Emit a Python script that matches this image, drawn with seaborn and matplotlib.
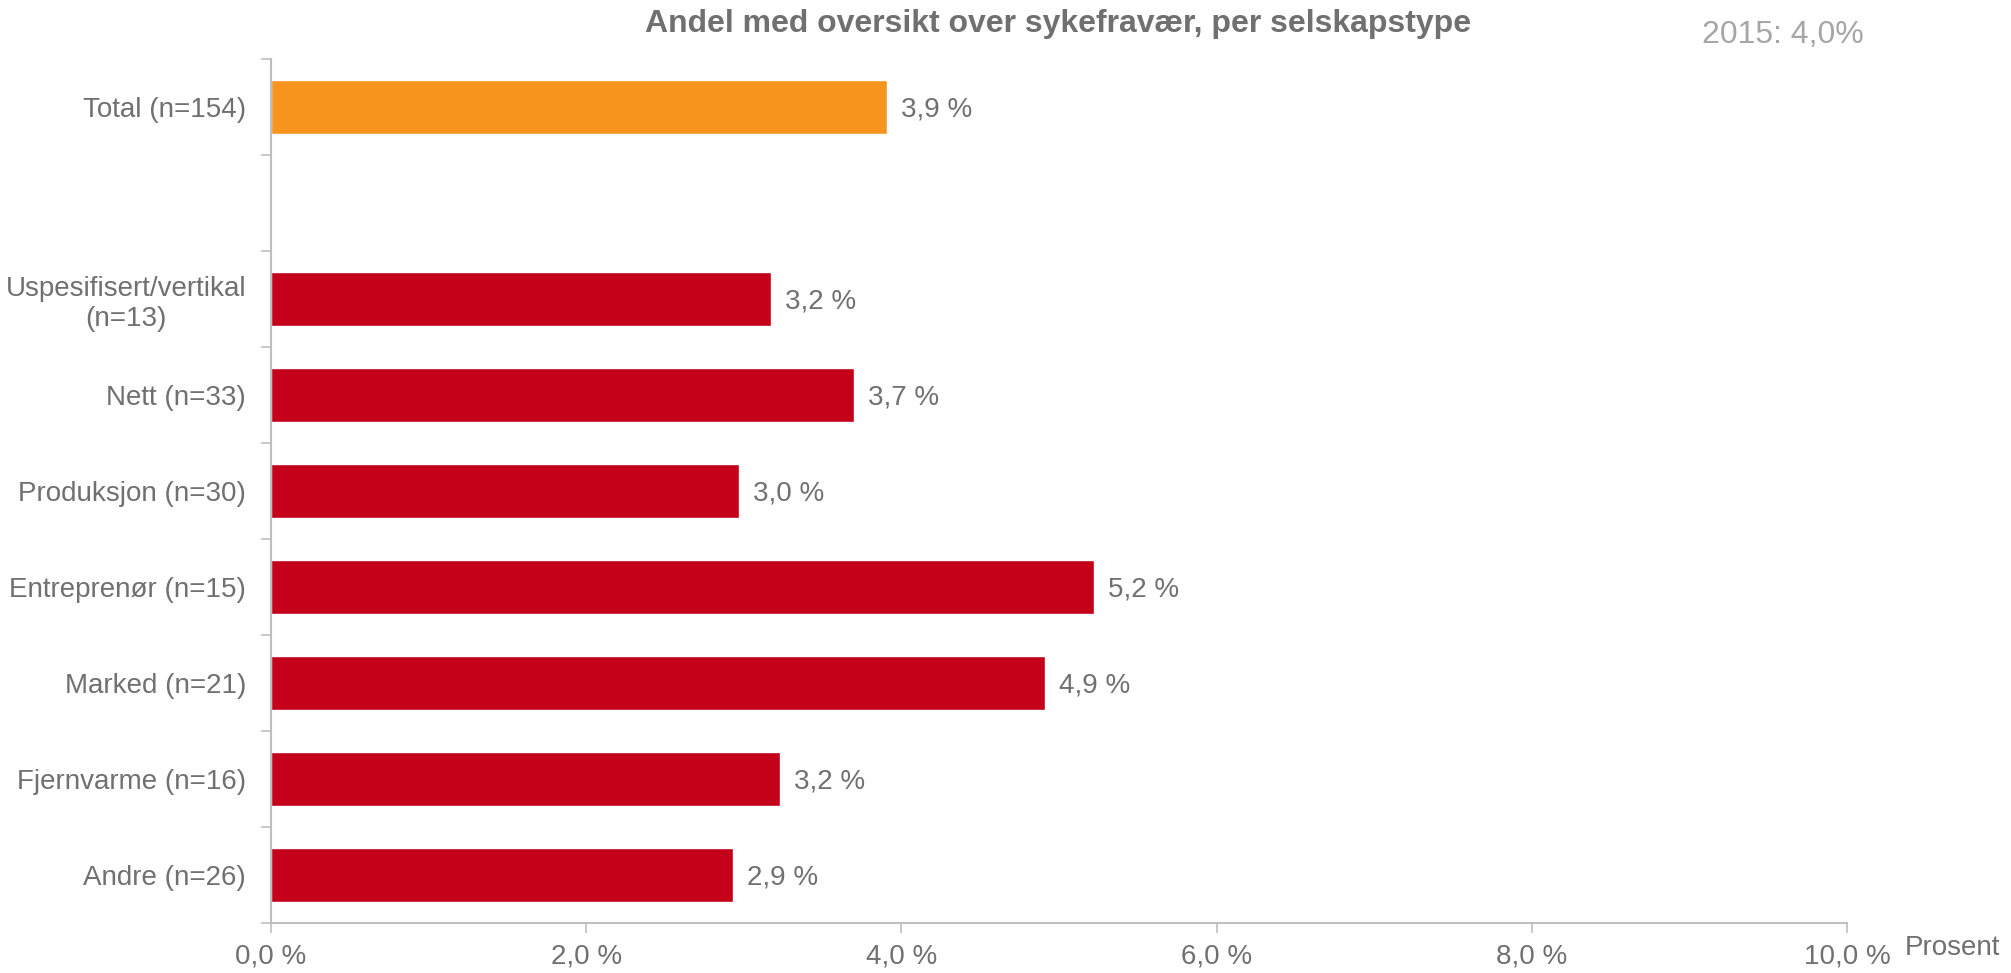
import numpy as np
import pandas as pd
import matplotlib
matplotlib.use("Agg")
import matplotlib.pyplot as plt
from matplotlib.ticker import FuncFormatter, FixedLocator
import seaborn as sns

# data
categories = ["Total (n=154)", " ", "Uspesifisert/vertikal\n(n=13)", "Nett (n=33)",
              "Produksjon (n=30)", "Entreprenør (n=15)", "Marked (n=21)",
              "Fjernvarme (n=16)", "Andre (n=26)"]
values = [3.91, np.nan, 3.17, 3.70, 2.97, 5.22, 4.91, 3.23, 2.93]
value_labels = ["3,9 %", "", "3,2 %", "3,7 %", "3,0 %", "5,2 %", "4,9 %", "3,2 %", "2,9 %"]

ORANGE = "#F7941D"
RED = "#C4001A"
GREY = "#707070"
AXCOL = "#BFBFBF"

sns.set_theme(style="white")
plt.rcParams["font.family"] = ["Liberation Sans", "DejaVu Sans"]

df = pd.DataFrame({"kategori": categories, "andel": values}).dropna()
palette = {c: (ORANGE if c.startswith("Total") else RED) for c in categories}

fig = plt.figure(figsize=(20.11, 9.73), dpi=100)
ax = fig.add_axes([0.1348, 0.0514, 0.9184 - 0.1348, 0.9394 - 0.0514])

sns.barplot(data=df, x="andel", y="kategori", hue="kategori", order=categories,
            palette=palette, legend=False, width=0.56, saturation=1, ax=ax)

# value labels next to the bars
for cont in ax.containers:
    labs = []
    for bar in cont:
        idx = int(round(bar.get_y() + bar.get_height() / 2))
        labs.append(value_labels[idx])
    texts = ax.bar_label(cont, labels=labs, padding=10, fontsize=20, color=GREY)
    for t in texts:
        t.set_va("center_baseline")

ax.set_xlim(0, 10)
ax.set_ylim(len(categories) - 0.5, -0.5)
ax.xaxis.set_major_locator(FixedLocator([0, 2, 4, 6, 8, 10]))
ax.xaxis.set_major_formatter(FuncFormatter(lambda v, p: f"{v:.1f} %".replace(".", ",")))
ax.set_xlabel("")
ax.set_ylabel("")

# ticks on slot boundaries for y
ax.yaxis.set_minor_locator(FixedLocator(np.arange(-0.5, len(categories), 1.0)))
ax.tick_params(axis="y", which="major", length=0, pad=18, labelsize=20, labelcolor=GREY)
ax.tick_params(axis="y", which="minor", left=True, length=7, width=1.2, color=AXCOL)
ax.tick_params(axis="x", which="major", bottom=True, length=7, width=1.2, color=AXCOL,
               pad=8, labelsize=20, labelcolor=GREY)
for lab in ax.get_yticklabels():
    lab.set_multialignment("center")

for side in ["top", "right"]:
    ax.spines[side].set_visible(False)
for side in ["left", "bottom"]:
    ax.spines[side].set_color(AXCOL)
    ax.spines[side].set_linewidth(1.5)

fig.text(0.5263, 0.975, "Andel med oversikt over sykefravær, per selskapstype",
         ha="center", va="center", fontsize=23, fontweight="bold", color=GREY)
fig.text(0.8866, 0.964, "2015: 4,0%", ha="center", va="center", fontsize=23, color="#A6A6A6")
fig.text(0.947, 0.0257, "Prosent", ha="left", va="center", fontsize=20, color=GREY)

fig.savefig("out.png", dpi=100)
